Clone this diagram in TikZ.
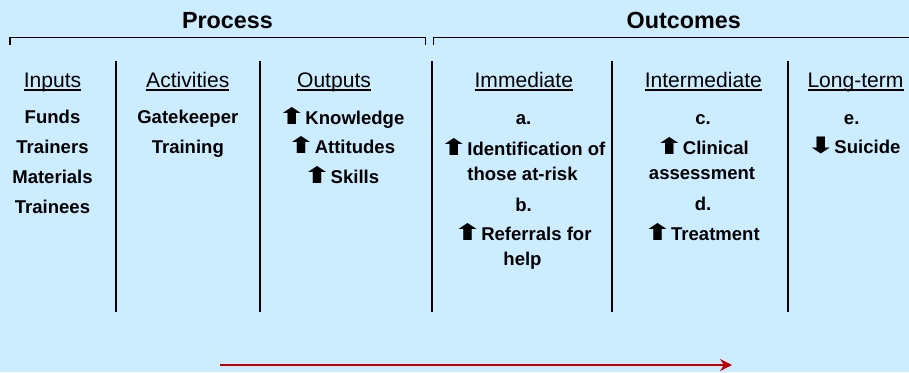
\documentclass[tikz,border=0pt]{standalone}
\usepackage{fontspec}
\usepackage{graphicx}
\setmainfont{Liberation Sans}
\newfontfamily\arrowfont{DejaVu Sans}
\usetikzlibrary{arrows.meta}
\definecolor{panel}{HTML}{CCECFF}
\definecolor{flow}{HTML}{C00000}
\newcommand{\uparr}{\scalebox{1.5}[1]{\arrowfont\bfseries\fontsize{17}{18}\selectfont ⬆}\hspace{-0.5pt}}
\newcommand{\downarr}{\scalebox{1.5}[1]{\arrowfont\bfseries\fontsize{17}{18}\selectfont ⬇}\hspace{-0.5pt}}
\newcommand{\headul}[1]{{\setbox0\hbox{#1}\rlap{\vrule height -0.8pt depth 2.3pt width \wd0}\box0}}
\tikzstyle{title}=[font=\bfseries\fontsize{17.5}{21}\selectfont, anchor=base, inner sep=0pt]
\tikzstyle{head}=[font=\fontsize{15.8}{19}\selectfont, anchor=base, inner sep=0pt]
\tikzstyle{item}=[font=\bfseries\fontsize{13.9}{18.75}\selectfont, anchor=base, inner sep=0pt, align=center]
\tikzstyle{divider}=[line width=1.5pt]
\tikzstyle{brace}=[line width=0.8pt]

\begin{document}
\begin{tikzpicture}[x=0.75pt,y=-0.75pt]

\fill[panel] (0,0) rectangle (909,372);
\useasboundingbox (0,0) rectangle (909,372);

\node[title] (process) at (227.5,28.3) {Process};
\node[title] (outcomes) at (683.7,28.3) {Outcomes};
\draw[brace] (10,44.7) |- (425.7,37.7) -- (425.7,44.7);
\draw[brace] (433.7,44.7) |- (909,37.7);

\foreach \x in {116,260,432,612,788}
  \draw[divider] (\x,61) -- (\x,312);

% column heads
\node[head] (inputs) at (52.5,87.5) {\headul{Inputs}};
\node[head] (activities) at (187.8,87.5) {\headul{Activities}};
\node[head] (outputs) at (334,87.5) {\headul{Outputs}};
\node[head] (immediate) at (523.8,87.5) {\headul{Immediate}};
\node[head] (intermediate) at (703.3,87.5) {\headul{Intermediate}};
\node[head] (longterm) at (855.5,87.5) {\headul{Long-term}};

% inputs
\node[item] (funds) at (52.5,123.3) {Funds};
\node[item] (trainers) at (52.5,153.3) {Trainers};
\node[item] (materials) at (52.5,183.3) {Materials};
\node[item] (trainees) at (52.5,213.3) {Trainees};

% activities
\node[item] (gate) at (187.8,123.3) {Gatekeeper};
\node[item] (training) at (187.8,153.3) {Training};

% outputs
\node[item] (know) at (341,124) {\uparr Knowledge};
\node[item] (att) at (341,153.5) {\uparr Attitudes};
\node[item] (skills) at (341,183) {\uparr Skills};

% immediate (two-line items sit on their last line)
\node[item] (a) at (523.5,124) {a.};
\node[item] (ident) at (522.5,180) {\uparr Identification of\\those at-risk};
\node[item] (b) at (523.5,211.5) {b.};
\node[item] (refer) at (522.5,265) {\uparr Referrals for\\help};

% intermediate
\node[item] (c) at (703,124) {c.};
\node[item] (clin) at (702,179) {\uparr Clinical\\assessment};
\node[item] (d) at (703,210) {d.};
\node[item] (treat) at (701.5,240) {\uparr Treatment};

% long-term
\node[item] (e) at (851.7,124) {e.};
\node[item] (suicide) at (853.5,153.5) {\downarr Suicide};

\coordinate (flowstart) at (220,365);
\coordinate (flowend) at (732,365);
\draw[flow, line width=1.5pt, -{Stealth[length=9pt,width=9pt,inset=3pt]}] (flowstart) -- (flowend);

\end{tikzpicture}
\end{document}
